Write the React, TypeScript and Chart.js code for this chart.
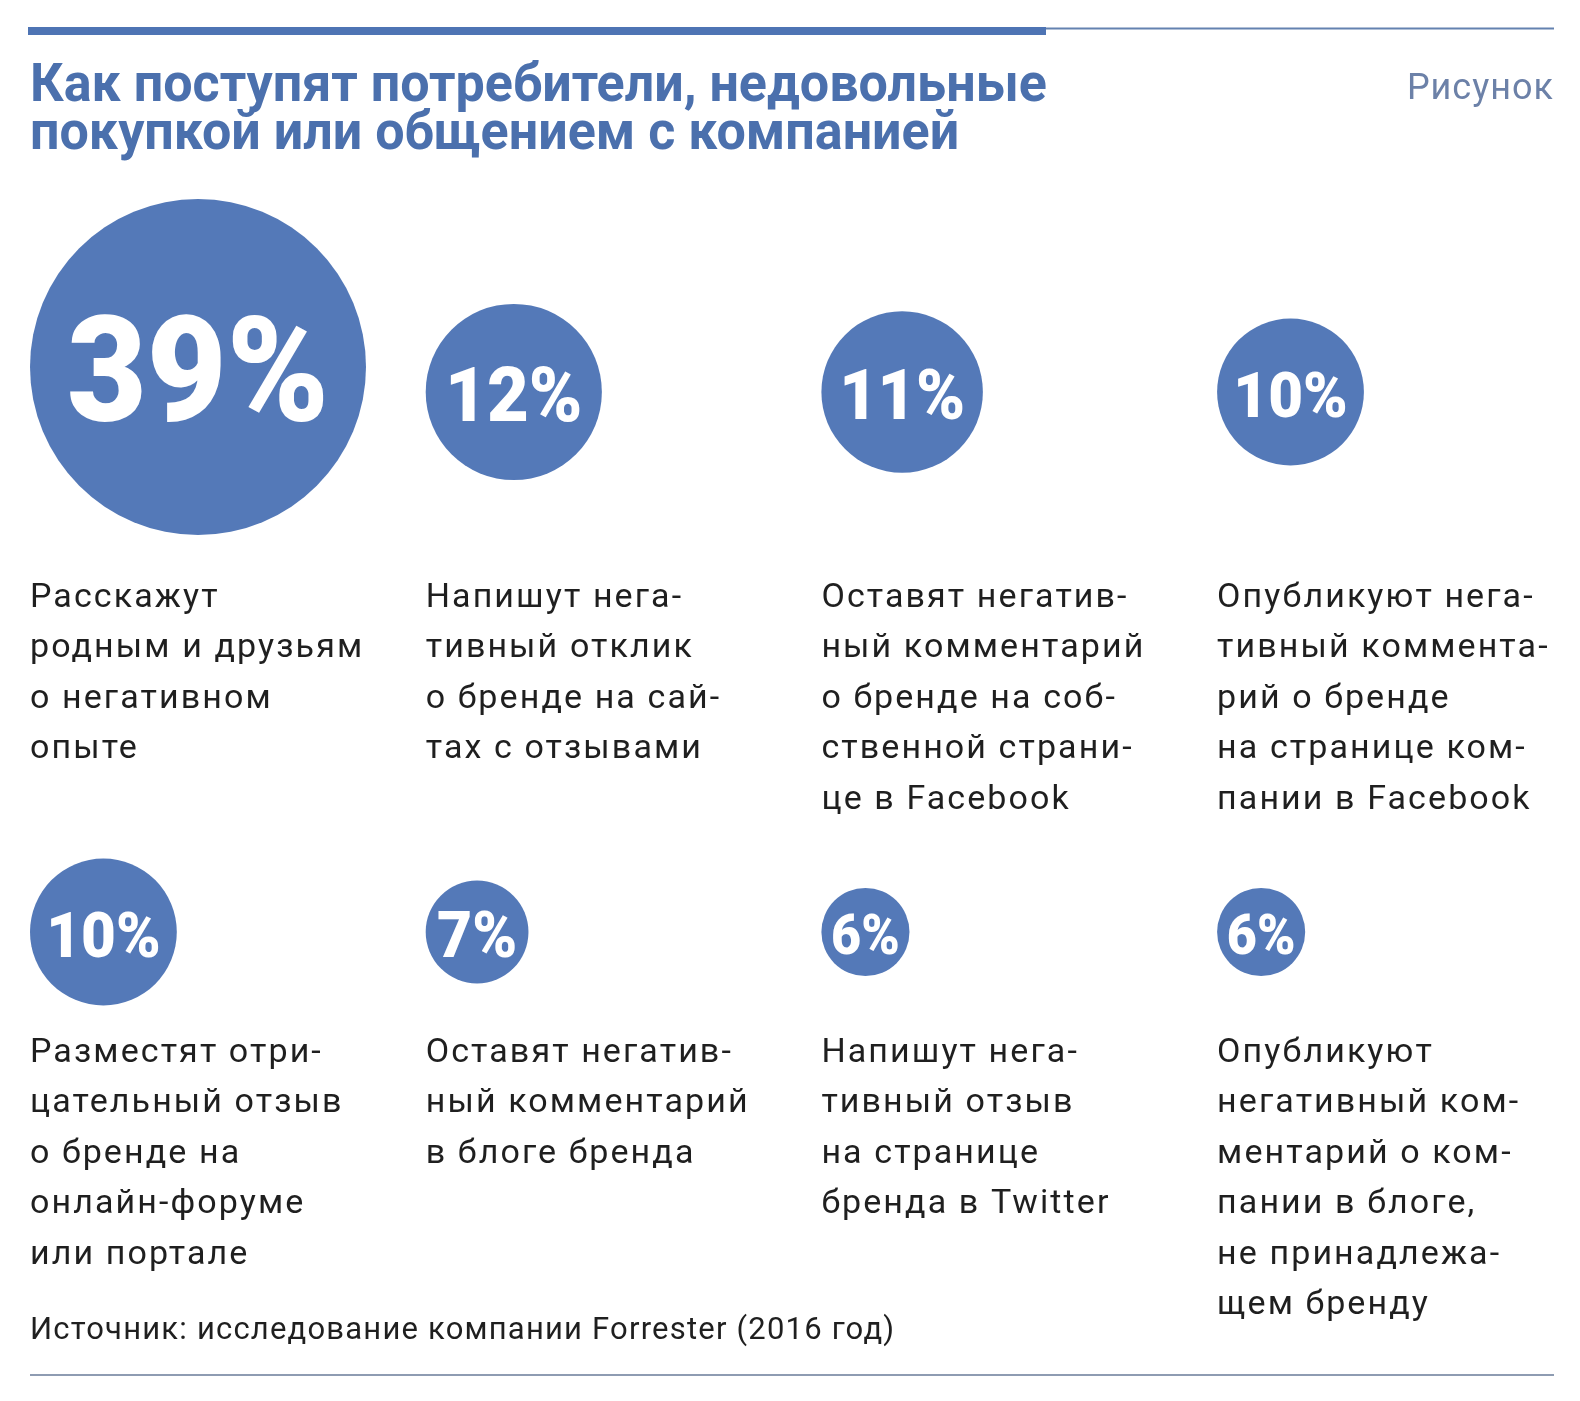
import React, { useEffect, useRef } from "react";
import { Chart, registerables } from "chart.js";

Chart.register(...registerables);

// ---------- data ----------
const TITLE_LINES = [
  "Как поступят потребители, недовольные",
  "покупкой или общением с компанией",
];
const FIGURE_LABEL = "Рисунок";
const SOURCE_TEXT = "Источник: исследование компании Forrester (2016 год)";

const VALUES = [39, 12, 11, 10, 10, 7, 6, 6];
const COLUMNS = [0, 1, 2, 3, 0, 1, 2, 3];
const ROWS = [0, 0, 0, 0, 1, 1, 1, 1];
const DESCRIPTIONS: string[][] = [
  ["Расскажут", "родным и друзьям", "о негативном", "опыте"],
  ["Напишут нега-", "тивный отклик", "о бренде на сай-", "тах с отзывами"],
  ["Оставят негатив-", "ный комментарий", "о бренде на соб-", "ственной страни-", "це в Facebook"],
  ["Опубликуют нега-", "тивный коммента-", "рий о бренде", "на странице ком-", "пании в Facebook"],
  ["Разместят отри-", "цательный отзыв", "о бренде на", "онлайн-форуме", "или портале"],
  ["Оставят негатив-", "ный комментарий", "в блоге бренда"],
  ["Напишут нега-", "тивный отзыв", "на странице", "бренда в Twitter"],
  ["Опубликуют", "негативный ком-", "ментарий о ком-", "пании в блоге,", "не принадлежа-", "щем бренду"],
];

// ---------- layout / style ----------
const W = 1580;
const H = 1401;
const LEFT = 30;
const RIGHT = 1554;
const COL_SPACING = 395.7;
const ROW_CENTERS = [392, 932];
const ROW_SPACING = ROW_CENTERS[1] - ROW_CENTERS[0];
const DESC_BASELINES = [607, 1062];
const DESC_LINE_H = 50.4;
const PX_PER_PERCENT = 7.34;
const MAX_RADIUS = 168;
const BIG_LIFT = 25;
const LABEL_SQUEEZE = 0.946;

const CIRCLE_COLOR = "#5479b8";
const TITLE_COLOR = "#4b70ad";
const BAR_COLOR = "#4e74b4";
const TEXT_COLOR = "#1f1f1f";

const radiusOf = (v: number) => Math.min(v * PX_PER_PERCENT, MAX_RADIUS);

const overlayPlugin = {
  id: "overlay",
  beforeDraw(chart: any) {
    const ctx = chart.ctx;
    ctx.save();
    ctx.fillStyle = "#ffffff";
    ctx.fillRect(0, 0, W, H);
    // top rules
    ctx.fillStyle = BAR_COLOR;
    ctx.fillRect(28, 27, 1018, 8);
    ctx.strokeStyle = "#6482b0";
    ctx.lineWidth = 2;
    ctx.beginPath();
    ctx.moveTo(1046, 28.5);
    ctx.lineTo(RIGHT, 28.5);
    ctx.stroke();
    // bottom rule
    ctx.strokeStyle = "#8e9cb2";
    ctx.beginPath();
    ctx.moveTo(LEFT, 1375);
    ctx.lineTo(RIGHT, 1375);
    ctx.stroke();

    // title
    ctx.fillStyle = TITLE_COLOR;
    ctx.font = "bold 54px Roboto";
    ctx.textBaseline = "alphabetic";
    ctx.textAlign = "left";
    TITLE_LINES.forEach((line, i) => {
      ctx.save();
      ctx.translate(LEFT, 101 + i * 48);
      ctx.scale(0.964, 1);
      ctx.fillText(line, 0, 0);
      ctx.restore();
    });

    // figure label
    ctx.fillStyle = "#6c81a8";
    ctx.font = "36px Roboto";
    (ctx as any).letterSpacing = "1px";
    ctx.textAlign = "right";
    ctx.fillText(FIGURE_LABEL, RIGHT, 99);

    // source
    ctx.textAlign = "left";
    ctx.fillStyle = TEXT_COLOR;
    ctx.font = "31px Roboto";
    (ctx as any).letterSpacing = "1.2px";
    ctx.fillText(SOURCE_TEXT, LEFT, 1339);
    ctx.restore();
  },
  afterDatasetsDraw(chart: any) {
    const ctx = chart.ctx;
    const meta = chart.getDatasetMeta(0);
    const xs = chart.scales.x;
    ctx.save();
    meta.data.forEach((el: any, i: number) => {
      const r = radiusOf(VALUES[i]);
      const label = VALUES[i] + "%";
      ctx.font = "900 100px Roboto";
      (ctx as any).letterSpacing = "0px";
      const w100 = ctx.measureText(label).width;
      const size = (100 * 0.78 * 2 * r) / (w100 * LABEL_SQUEEZE);
      ctx.font = `900 ${size}px Roboto`;
      ctx.fillStyle = "#ffffff";
      ctx.textAlign = "center";
      ctx.textBaseline = "alphabetic";
      const cap = size * 0.711;
      ctx.save();
      ctx.translate(el.x, el.y + cap / 2 + 2);
      ctx.scale(LABEL_SQUEEZE, 1);
      ctx.fillText(label, 0, 0);
      ctx.restore();

      // description
      ctx.fillStyle = TEXT_COLOR;
      ctx.font = "34px Roboto";
      (ctx as any).letterSpacing = "2.1px";
      ctx.textAlign = "left";
      const x0 = xs.getPixelForValue(COLUMNS[i]);
      DESCRIPTIONS[i].forEach((line, j) => {
        ctx.fillText(line, x0, DESC_BASELINES[ROWS[i]] + j * DESC_LINE_H);
      });
    });
    ctx.restore();
  },
};

export default function App() {
  const ref = useRef<HTMLCanvasElement | null>(null);
  useEffect(() => {
    document.body.style.margin = "0";
    const canvas = ref.current;
    if (!canvas) return;
    const points = VALUES.map((v, i) => {
      const r = radiusOf(v);
      return {
        x: COLUMNS[i] + r / COL_SPACING,
        y: ROWS[i] - (r >= MAX_RADIUS ? BIG_LIFT / ROW_SPACING : 0),
        r,
      };
    });
    const chart = new Chart(canvas, {
      type: "bubble",
      data: {
        datasets: [
          {
            data: points,
            backgroundColor: CIRCLE_COLOR,
            borderWidth: 0,
            clip: false as any,
          },
        ],
      },
      options: {
        responsive: false,
        animation: false,
        events: [],
        layout: { autoPadding: false, padding: { left: LEFT, right: 0, top: 0, bottom: 0 } },
        plugins: { legend: { display: false }, tooltip: { enabled: false } },
        scales: {
          x: {
            type: "linear",
            display: false,
            min: 0,
            max: (W - LEFT) / COL_SPACING,
          },
          y: {
            type: "linear",
            display: false,
            reverse: true,
            min: -ROW_CENTERS[0] / ROW_SPACING,
            max: (H - ROW_CENTERS[0]) / ROW_SPACING,
          },
        },
      },
      plugins: [overlayPlugin],
    });
    return () => chart.destroy();
  }, []);
  return (
    <div style={{ width: W, height: H, background: "#fff" }}>
      <canvas ref={ref} width={W} height={H} style={{ display: "block" }} />
    </div>
  );
}
